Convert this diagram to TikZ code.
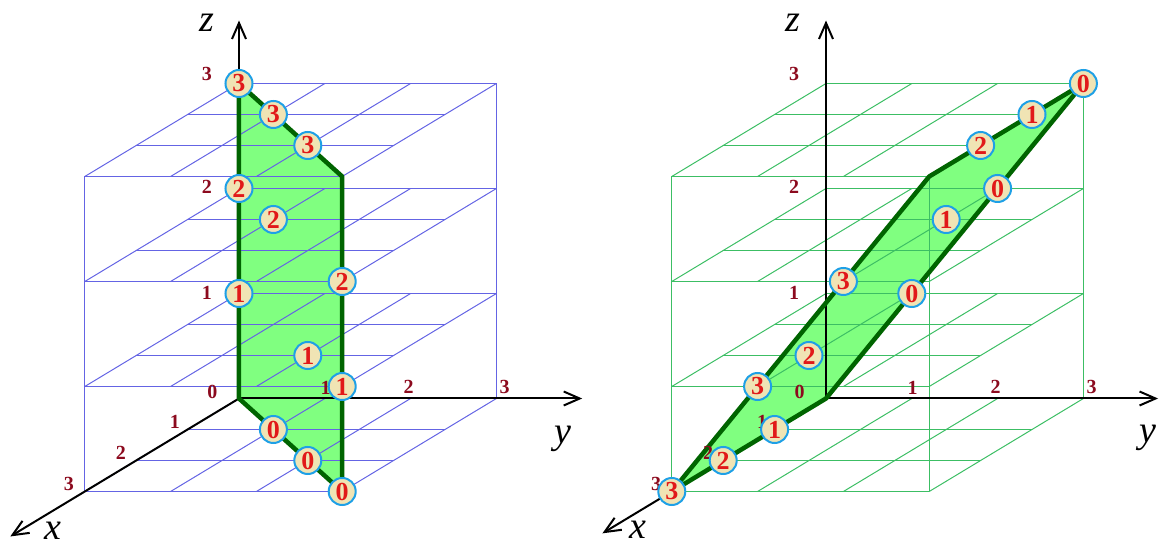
\documentclass[tikz,border=0pt]{standalone}
\usepackage{fontspec}
\setmainfont{Liberation Serif}
\usetikzlibrary{arrows.meta}
\definecolor{gridblue}{RGB}{100,100,228}
\definecolor{gridgreen}{RGB}{60,190,100}
\definecolor{planefill}{RGB}{128,255,128}
\definecolor{rimgreen}{RGB}{0,100,0}
\definecolor{dotfill}{RGB}{240,228,180}
\definecolor{dotrim}{RGB}{30,160,230}
\definecolor{dotred}{RGB}{225,25,25}
\definecolor{tickred}{RGB}{140,10,30}

\begin{document}
\begin{tikzpicture}[
        x={(-51.4pt,-31pt)}, y={(85.8pt,0pt)}, z={(0pt,105pt)},
        gridline/.style={line width=1pt},
        plane/.style={fill=planefill},
        rim/.style={draw=rimgreen, line width=4.5pt, line join=round},
        axisline/.style={-{Straight Barb[length=16pt,width=14pt,line width=2pt]}, line width=2pt, black},
        dot/.style={circle, fill=dotfill, draw=dotrim, line width=2pt, minimum size=27pt, inner sep=0pt, text=dotred, font=\fontsize{26}{26}\selectfont\bfseries},
        tick/.style={text=tickred, font=\fontsize{20}{20}\selectfont\bfseries},
        axlabel/.style={font=\fontsize{38}{38}\selectfont\itshape}
    ]
    \useasboundingbox (-239pt,-149.5pt) rectangle (920pt,398.5pt);

    % left cube: plane x=y
    \begin{scope}
        \coordinate (LO) at (0,0,0);
        \coordinate (La) at (0,0,3);
        \coordinate (Lb) at (3,3,3);
        \coordinate (Lc) at (3,3,0);
        \coordinate (Lzend) at (0,0,3.6);
        \coordinate (Lyend) at (0,4.0,0);
        \coordinate (Lxend) at (4.45,0,0);

        \fill[plane] (La) -- (Lb) -- (Lc) -- (LO) -- cycle;
        \foreach \k in {0,...,3} {
            \foreach \i in {0,...,3} {
                \draw[gridline, gridblue] (\i,0,\k) -- (\i,3,\k);
                \draw[gridline, gridblue] (0,\i,\k) -- (3,\i,\k);
            }
        }
        \foreach \a/\b in {0/0,0/3,3/0,3/3}
            \draw[gridline, gridblue] (\a,\b,0) -- (\a,\b,3);

        \draw[axisline] (LO) -- (Lzend);
        \draw[axisline] (LO) -- (Lyend);
        \draw[axisline] (LO) -- (Lxend);
        \draw[rim] (La) -- (Lb) -- (Lc) -- (LO) -- cycle;

        \foreach \px/\py/\t [count=\j] in {-32/325/3, -32/211.5/2, -32/106/1, -26.5/6.5/0,
                86.5/11/1, 169.5/12/2, 265.5/12/3, -64/-23/1, -118/-54/2, -170/-85/3}
            \node[tick] (Lt\j) at (\px pt,\py pt) {\t};

        \foreach \a/\b/\c/\t [count=\j] in {0/0/3/3, 1/1/3/3, 2/2/3/3, 0/0/2/2, 1/1/2/2, 3/3/2/2,
                0/0/1/1, 2/2/1/1, 3/3/1/1, 1/1/0/0, 2/2/0/0, 3/3/0/0}
            \node[dot] (Ld\j) at (\a,\b,\c) {\t};

        \node[axlabel] (Lzlab) at (-32pt,375.5pt) {z};
        \node[axlabel] (Lylab) at (324pt,-40pt) {y};
        \node[axlabel] (Lxlab) at (-186pt,-132pt) {x};
    \end{scope}

    % right cube: plane y=z
    \begin{scope}[xshift=587pt]
        \coordinate (RO) at (0,0,0);
        \coordinate (Ra) at (3,0,0);
        \coordinate (Rb) at (3,3,3);
        \coordinate (Rc) at (0,3,3);
        \coordinate (Rzend) at (0,0,3.6);
        \coordinate (Ryend) at (0,3.87,0);
        \coordinate (Rxend) at (4.35,0,0);

        \fill[plane] (Ra) -- (Rb) -- (Rc) -- (RO) -- cycle;
        \foreach \k in {0,...,3} {
            \foreach \i in {0,...,3} {
                \draw[gridline, gridgreen] (\i,0,\k) -- (\i,3,\k);
                \draw[gridline, gridgreen] (0,\i,\k) -- (3,\i,\k);
            }
        }
        \foreach \a/\b in {0/0,0/3,3/0,3/3}
            \draw[gridline, gridgreen] (\a,\b,0) -- (\a,\b,3);

        \draw[axisline] (RO) -- (Rzend);
        \draw[axisline] (RO) -- (Ryend);
        \draw[axisline] (RO) -- (Rxend);
        \draw[rim] (Ra) -- (Rb) -- (Rc) -- (RO) -- cycle;

        \foreach \px/\py/\t [count=\j] in {-32/325/3, -32/211.5/2, -32/106/1, -26.5/6.5/0,
                86.5/11/1, 169.5/12/2, 265.5/12/3, -64/-23/1, -118/-54/2, -170/-85/3}
            \node[tick] (Rt\j) at (\px pt,\py pt) {\t};

        \foreach \a/\b/\c/\t [count=\j] in {3/0/0/3, 3/1/1/3, 3/2/2/3, 2/0/0/2, 2/1/1/2, 2/3/3/2,
                1/0/0/1, 1/2/2/1, 1/3/3/1, 0/1/1/0, 0/2/2/0, 0/3/3/0}
            \node[dot] (Rd\j) at (\a,\b,\c) {\t};

        \node[axlabel] (Rzlab) at (-33pt,376pt) {z};
        \node[axlabel] (Rylab) at (322pt,-39pt) {y};
        \node[axlabel] (Rxlab) at (-188pt,-131pt) {x};
    \end{scope}
\end{tikzpicture}
\end{document}
